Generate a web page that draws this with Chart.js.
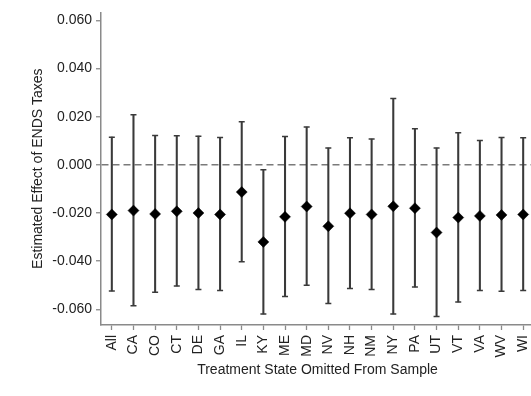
<!DOCTYPE html>
<html>
<head>
<meta charset="utf-8">
<script src="https://cdn.jsdelivr.net/npm/chart.js@4.4.0/dist/chart.umd.min.js"></script>
<style>
  html, body { margin: 0; padding: 0; background: #fff; overflow: hidden; }
  #wrap { position: relative; width: 540px; height: 396px; }
</style>
</head>
<body>
<div id="wrap"><canvas id="coefChart"></canvas></div>
<script>
// states left out of the sample, one estimate each
const states = ["All", "CA", "CO", "CT", "DE", "GA", "IL", "KY", "ME", "MD",
    "NV", "NH", "NM", "NY", "PA", "UT", "VT", "VA", "WV", "WI"];
const estimates = [-0.0206, -0.0190, -0.0204, -0.0193, -0.0200, -0.0206, -0.0113, -0.0320, -0.0216, -0.0173,
    -0.0255, -0.0201, -0.0206, -0.0172, -0.0180, -0.0281, -0.0219, -0.0212, -0.0208, -0.0206];
const upperCI = [0.0115, 0.0208, 0.0122, 0.0121, 0.0119, 0.0114, 0.0179, -0.0020, 0.0118, 0.0157,
    0.0070, 0.0113, 0.0107, 0.0275, 0.0150, 0.0070, 0.0133, 0.0101, 0.0114, 0.0113];
const lowerCI = [-0.0524, -0.0585, -0.0529, -0.0503, -0.0518, -0.0522, -0.0402, -0.0619, -0.0547, -0.0500,
    -0.0576, -0.0513, -0.0518, -0.0619, -0.0507, -0.0630, -0.0569, -0.0522, -0.0525, -0.0522];
const yTicks = [-0.06, -0.04, -0.02, 0, 0.02, 0.04, 0.06];

const fontFamily = "'Liberation Sans', Arial, sans-serif";
const axisGray = "#8a8a8a";

const data = {
    labels: states,
    datasets: [
        {
            type: "line",
            label: "Estimate",
            data: estimates,
            showLine: false,
            pointStyle: "rectRot",
            pointRadius: 5.5,
            pointBackgroundColor: "#000",
            pointBorderColor: "#000",
            pointBorderWidth: 0.5,
            order: 0,
        },
        {
            type: "line",
            label: "Upper",
            data: upperCI,
            showLine: false,
            pointStyle: "line",
            pointRadius: 3,
            pointBorderColor: "#3a3a3a",
            pointBorderWidth: 1.5,
            order: 1,
        },
        {
            type: "line",
            label: "Lower",
            data: lowerCI,
            showLine: false,
            pointStyle: "line",
            pointRadius: 3,
            pointBorderColor: "#3a3a3a",
            pointBorderWidth: 1.5,
            order: 1,
        },
        {
            type: "bar",
            label: "CI",
            data: states.map((s, i) => [lowerCI[i], upperCI[i]]),
            backgroundColor: "#3a3a3a",
            borderWidth: 0,
            barThickness: 1.4,
            order: 2,
        },
    ],
};

const options = {
    responsive: false,
    animation: false,
    layout: { padding: { top: 12, left: 0, right: 0, bottom: 0 } },
    plugins: {
        legend: { display: false },
        tooltip: { enabled: false },
    },
    scales: {
        x: {
            type: "category",
            offset: true,
            grid: {
                offset: false,
                drawOnChartArea: false,
                drawTicks: true,
                tickLength: 5,
                tickColor: axisGray,
                tickWidth: 1.3,
            },
            border: { color: axisGray, width: 1.5 },
            ticks: {
                autoSkip: false,
                maxRotation: 90,
                minRotation: 90,
                padding: 5,
                color: "#222",
                font: { family: fontFamily, size: 14 },
            },
            title: {
                display: true,
                text: "Treatment State Omitted From Sample",
                color: "#222",
                font: { family: fontFamily, size: 14 },
                padding: { top: 0, bottom: 17 },
            },
            afterFit: (scale) => {
                scale.height = 71;
                scale.paddingLeft = 0;
                scale.paddingRight = 0;
            },
        },
        y: {
            min: -0.0665,
            max: 0.0633,
            afterBuildTicks: (scale) => {
                scale.ticks = yTicks.map((v) => ({ value: v }));
            },
            grid: {
                drawOnChartArea: true,
                drawTicks: true,
                tickLength: 5,
                tickColor: axisGray,
                tickWidth: 1.3,
                lineWidth: 1.5,
                color: (ctx) => (ctx.tick && Math.abs(ctx.tick.value) < 1e-9 ? "#7a7a7a" : "rgba(0,0,0,0)"),
            },
            border: { color: axisGray, width: 1.5, dash: [7, 4] },
            ticks: {
                padding: 4,
                color: "#222",
                font: { family: fontFamily, size: 14 },
                callback: (v) => (Math.abs(v) < 1e-9 ? "0.000" : Number(v).toFixed(3)),
            },
            title: {
                display: true,
                text: "Estimated Effect of ENDS Taxes",
                color: "#222",
                font: { family: fontFamily, size: 14 },
                padding: { top: 30, bottom: 0 },
            },
            afterFit: (scale) => { scale.width = 101; },
        },
    },
};

const ctx = document.getElementById("coefChart");
ctx.width = 540;
ctx.height = 396;
const coefChart = new Chart(ctx, { type: "bar", data: data, options: options });
</script>
</body>
</html>
